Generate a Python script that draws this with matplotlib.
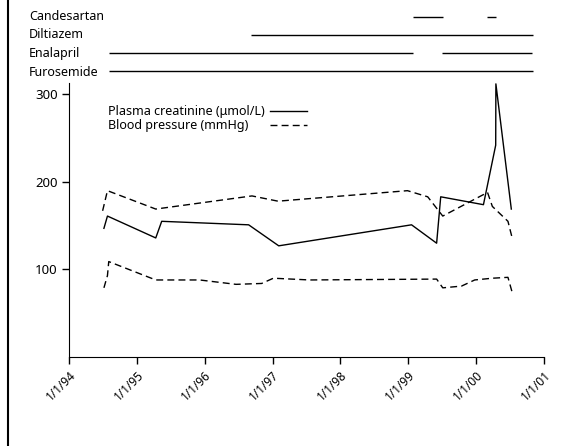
import matplotlib
matplotlib.use("Agg")
import matplotlib.pyplot as plt
from matplotlib.lines import Line2D
import pandas as pd

plt.rcParams['font.family'] = ['Noto Sans', 'DejaVu Sans']

# Plasma creatinine (umol/L)
creat_dates = ['1994-07-08', '1994-07-27', '1995-04-13', '1995-05-15', '1996-08-25',
               '1997-02-03', '1999-01-19', '1999-06-03', '1999-06-25', '2000-02-10',
               '2000-04-16', '2000-04-17', '2000-07-09']
creat_vals = [147, 161, 136, 155, 151, 127, 151, 130, 183, 174, 242, 312, 169]

# Systolic blood pressure (mmHg)
sys_dates = ['1994-07-01', '1994-07-27', '1995-04-13', '1996-09-12', '1997-01-30',
             '1998-12-28', '1999-04-16', '1999-07-06', '2000-03-03', '2000-03-29',
             '2000-06-21', '2000-07-16']
sys_vals = [167, 190, 169, 184, 178, 190, 183, 161, 188, 172, 155, 134]

# Diastolic blood pressure (mmHg)
dia_dates = ['1994-07-08', '1994-07-27', '1994-08-03', '1995-04-13', '1995-12-05',
             '1996-06-18', '1996-11-03', '1997-01-05', '1997-07-20', '1999-06-03',
             '1999-07-06', '1999-10-15', '1999-12-25', '2000-03-29', '2000-06-21',
             '2000-07-16']
dia_vals = [79, 93, 109, 88, 88, 83, 84, 90, 88, 89, 79, 81, 88, 90, 91, 72]

# drug periods (start, end)
drugs = ['Candesartan', 'Diltiazem', 'Enalapril', 'Furosemide']
drug_periods = {
    'Candesartan': [('1999-01-25', '1999-07-06'), ('2000-03-01', '2000-04-16')],
    'Diltiazem': [('1996-09-05', '2000-11-01')],
    'Enalapril': [('1994-08-03', '1999-01-28'), ('1999-07-01', '2000-10-30')],
    'Furosemide': [('1994-08-03', '2000-11-01')],
}

xticks = ['1994-01-01', '1995-01-01', '1996-01-01', '1997-01-01',
          '1998-01-01', '1999-01-01', '2000-01-01', '2001-01-01']
xtick_labels = ['1/1/94', '1/1/95', '1/1/96', '1/1/97', '1/1/98', '1/1/99', '1/1/00', '1/1/01']
yticks = [100, 200, 300]
legend_labels = ['Plasma creatinine (\u03bcmol/L)', 'Blood pressure (mmHg)']

fig = plt.figure(figsize=(5.74, 4.46), dpi=100)
W, H = 574, 446

ax = fig.add_axes([69 / W, 1 - 357 / H, (544 - 69) / W, (357 - 83) / H])
xmin, xmax = pd.Timestamp(xticks[0]), pd.Timestamp(xticks[-1])
dash = (0, (5, 3))

ax.plot(pd.to_datetime(creat_dates), creat_vals, color='black', lw=1.0)
ax.plot(pd.to_datetime(sys_dates), sys_vals, color='black', lw=1.0, linestyle=dash)
ax.plot(pd.to_datetime(dia_dates), dia_vals, color='black', lw=1.0, linestyle=dash)

ax.set_xlim(xmin, xmax)
ax.set_ylim(0, 313)
ax.set_xticks(pd.to_datetime(xticks))
ax.set_xticklabels(xtick_labels, rotation=45, ha='right', rotation_mode='anchor',
                   fontsize=8.5, fontweight='bold')
ax.set_yticks(yticks)
ax.set_yticklabels([str(v) for v in yticks], fontsize=9.5, fontweight='bold')
ax.tick_params(axis='both', length=5, width=1, direction='out', pad=3)
ax.spines['top'].set_visible(False)
ax.spines['right'].set_visible(False)

# legend: text left, line sample right
for i, (lab, ls) in enumerate(zip(legend_labels, ['-', dash])):
    ypos = 1 - (111 + i * 14) / H
    fig.text(108 / W, ypos, lab, fontsize=9, va='center', ha='left')
    fig.add_artist(Line2D([270 / W, 307 / W], [ypos, ypos], color='black', lw=1.0,
                          linestyle=ls, transform=fig.transFigure))

# drug bars on top
dax = fig.add_axes([69 / W, 1 - 80 / H, (544 - 69) / W, 72 / H])
dax.set_xlim(xmin, xmax)
dax.set_ylim(-0.5, 3.5)
dax.axis('off')
for i, d in enumerate(drugs):
    yy = 3 - i
    for s, e in drug_periods[d]:
        dax.plot([pd.Timestamp(s), pd.Timestamp(e)], [yy, yy], color='black', lw=1.0,
                 solid_capstyle='butt')
    fig.text(29 / W, 1 - (16 + i * 19) / H, d, fontsize=9, va='center', ha='left')

fig.add_artist(Line2D([8 / W, 8 / W], [0, 1], color='black', lw=1.5,
                      transform=fig.transFigure))

fig.savefig('out.png', dpi=100)
